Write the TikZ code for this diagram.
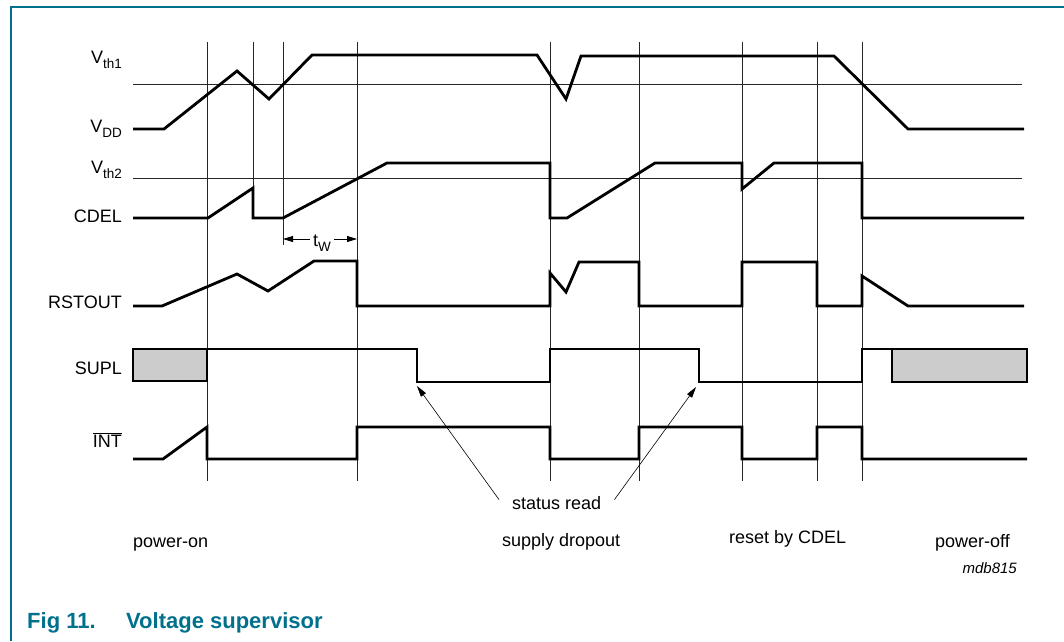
\documentclass[tikz,border=0pt]{standalone}
\usepackage{fontspec}
\setmainfont{Liberation Sans}
\usetikzlibrary{arrows.meta,positioning}
\definecolor{figteal}{RGB}{0,112,140}
\definecolor{boxgray}{RGB}{204,204,204}
\newcommand{\sigsub}[1]{\raisebox{-0.28em}{\fontsize{13.5}{15}\selectfont #1}}
\tikzset{
    wave/.style={line width=2.8pt, line join=miter},
    undef/.style={wave, fill=boxgray},
    grid/.style={line width=0.8pt, black!85},
    thresh/.style={line width=0.8pt, black!85},
    signame/.style={anchor=base east, inner sep=0pt, font=\fontsize{18}{21}\selectfont},
    note/.style={anchor=base west, inner sep=0pt, font=\fontsize{18}{21}\selectfont},
    pointer/.style={-{Triangle[length=11pt, width=6pt]}, line width=0.6pt},
    span/.style={-{Triangle[length=10pt, width=6pt]}, line width=0.8pt}
}

\begin{document}
\begin{tikzpicture}[x=1pt, y=-1pt]
    \useasboundingbox (0,0) rectangle (1064,641);
    % frame
    \draw[figteal, line width=1.3pt] (11,641) -- (11,7) -- (1064,7);

    % time markers
    \foreach \t in {207,357,550,639,742,817,862}
        \draw[grid] (\t,42) -- (\t,481);
    \draw[grid] (253,42) -- (253,188);
    \draw[grid] (283,42) -- (283,245);

    % thresholds
    \draw[thresh] (133,84) -- (1022,84);
    \draw[thresh] (133,178) -- (1022,178);

    % signal names
    \node[signame] (vth1) at (122,63) {V\sigsub{th1}};
    \node[signame] (vdd) at (122,132) {V\sigsub{DD}};
    \node[signame] (vth2) at (122,173) {V\sigsub{th2}};
    \node[signame] (cdel) at (122,222) {CDEL};
    \node[signame] (rstout) at (122,308) {RSTOUT};
    \node[signame] (supl) at (122,374) {SUPL};
    \node[signame] (int) at (122,447) {$\overline{\mbox{INT}}$};

    % VDD
    \draw[wave] (133,129) -- (164,129) -- (237,71) -- (269,99) -- (312,55)
        -- (537,55) -- (566,99) -- (581,56) -- (834,56) -- (908,129) -- (1024,129);
    % CDEL
    \draw[wave] (133,218) -- (208,218) -- (253,188) -- (253,218) -- (283,218)
        -- (387,163) -- (550,163) -- (550,218) -- (567,218) -- (655,163)
        -- (742,163) -- (742,189) -- (774,163) -- (862,163) -- (862,218) -- (1024,218);
    % RSTOUT
    \draw[wave] (133,306) -- (162,306) -- (237,274) -- (268,291) -- (314,261)
        -- (357,261) -- (357,306) -- (550,306) -- (550,273) -- (566,292)
        -- (579,262) -- (639,262) -- (639,306) -- (742,306) -- (742,262)
        -- (817,262) -- (817,306) -- (862,306) -- (862,276) -- (908,306) -- (1024,306);
    % SUPL
    \draw[undef] (133,349) rectangle (207,381);
    \draw[wave] (207,349) -- (417,349) -- (417,382) -- (550,382) -- (550,349)
        -- (699,349) -- (699,382) -- (862,382) -- (862,349) -- (892,349);
    \draw[undef] (892,349) rectangle (1027,382);
    % INT
    \draw[wave] (133,459) -- (163,459) -- (207,427) -- (207,459) -- (357,459)
        -- (357,427) -- (550,427) -- (550,459) -- (639,459) -- (639,427)
        -- (742,427) -- (742,459) -- (817,459) -- (817,427) -- (862,427)
        -- (862,459) -- (1027,459);

    % t_W
    \node[anchor=base, inner sep=0pt, font=\fontsize{18}{21}\selectfont] (tw) at (322,246) {t\sigsub{W}};
    \coordinate (twl) at (283,239);
    \coordinate (twr) at (357,239);
    \draw[span] (tw.west |- twl) ++(-3,0) -- (twl);
    \draw[span] (tw.east |- twr) ++(3,0) -- (twr);

    % status read
    \node[note] (stat) at (512,509) {status read};
    \coordinate (read1) at (417,386);
    \coordinate (read2) at (696,387);
    \draw[pointer] (stat.west) ++(-13,-3) -- (read1);
    \draw[pointer] (stat.east) ++(13,-3) -- (read2);

    % phases
    \node[note] (pon) at (133,547) {power-on};
    \node[note] (drop) at (502,546) {supply dropout};
    \node[note] (rst) at (729,543) {reset by CDEL};
    \node[note] (poff) at (935,547) {power-off};
    \node[anchor=base east, inner sep=0pt, font=\fontsize{15}{18}\selectfont\itshape] (code) at (1017,573) {mdb815};

    % caption
    \node[anchor=base west, inner sep=0pt, text=figteal, font=\fontsize{22}{26}\selectfont\bfseries] (figno) at (27,628) {Fig 11.};
    \node[anchor=base west, inner sep=0pt, text=figteal, font=\fontsize{22}{26}\selectfont\bfseries] (figtitle) at (126,628) {Voltage supervisor};
\end{tikzpicture}
\end{document}
